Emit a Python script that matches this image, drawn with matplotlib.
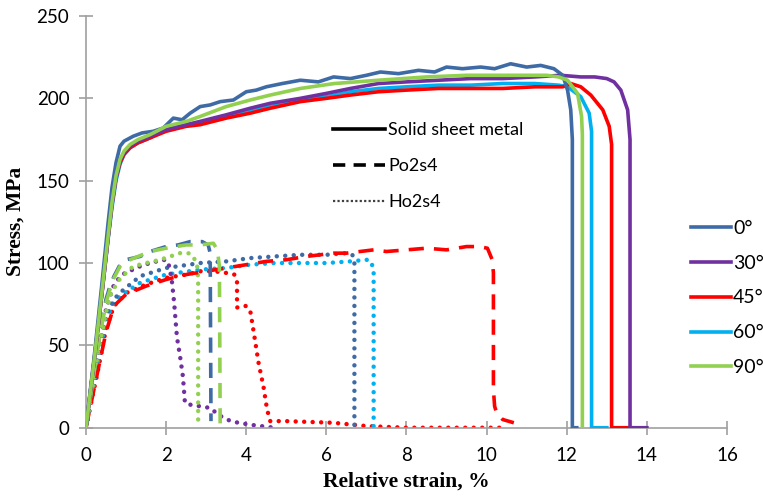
import matplotlib
matplotlib.use("Agg")
import matplotlib.pyplot as plt
from matplotlib.lines import Line2D

# ---------------- data ----------------
angles = ["0°", "30°", "45°", "60°", "90°"]
colors = {"0°": "#3E6BA6", "30°": "#7030A0", "45°": "#FF0000", "60°": "#00B0F0", "90°": "#92D050"}

# Solid sheet metal
solid_x_0 = [0, 0.2, 0.4, 0.55, 0.65, 0.75, 0.85, 0.95, 1.18, 1.4, 1.68, 1.93, 2.18, 2.4, 2.6, 2.85, 3.1, 3.35, 3.68, 4.0, 4.25, 4.5, 4.9, 5.35, 5.8, 6.18, 6.6, 7.0, 7.35, 7.8, 8.3, 8.7, 9.0, 9.4, 9.85, 10.2, 10.6, 11.0, 11.35, 11.68, 11.9, 12.02, 12.1, 12.14, 12.14, 12.25]
solid_y_0 = [0, 42, 88, 124, 146, 161, 171, 174, 177, 179, 180, 182, 188, 187, 191, 195, 196, 198, 199, 204, 205, 207, 209, 211, 210, 213, 212, 214, 216, 215, 217, 216, 219, 218, 219, 218, 221, 219, 220, 218, 214, 205, 193, 175, 0, 0]
solid_x_30 = [0, 0.2, 0.4, 0.55, 0.65, 0.75, 0.85, 0.95, 1.1, 1.3, 1.6, 2.0, 2.5, 2.85, 3.5, 4.1, 4.6, 5.35, 6.0, 6.6, 7.3, 8.0, 8.8, 9.6, 10.4, 11.2, 11.85, 12.35, 12.7, 13.0, 13.18, 13.35, 13.52, 13.58, 13.58, 14.0]
solid_y_30 = [0, 40, 82, 115, 136, 152, 162, 167, 171, 174, 177, 181, 184, 186, 190, 194, 197, 200, 203, 206, 209, 210, 211, 212, 212, 213, 214, 213, 213, 212, 210, 205, 193, 175, 0, 0]
solid_x_45 = [0, 0.2, 0.4, 0.55, 0.65, 0.75, 0.85, 0.95, 1.1, 1.3, 1.6, 2.0, 2.5, 2.85, 3.5, 4.1, 4.6, 5.35, 6.0, 6.6, 7.3, 8.0, 8.8, 9.6, 10.4, 11.2, 11.9, 12.1, 12.35, 12.6, 12.9, 13.06, 13.12, 13.12, 13.6]
solid_y_45 = [0, 40, 82, 115, 136, 152, 161, 166, 170, 173, 176, 180, 183, 184, 188, 191, 194, 198, 200, 202, 204, 205, 206, 206, 206, 207, 207, 209, 207, 202, 193, 183, 172, 0, 0]
solid_x_60 = [0, 0.2, 0.4, 0.55, 0.65, 0.75, 0.85, 0.95, 1.1, 1.3, 1.6, 2.0, 2.5, 2.85, 3.5, 4.1, 4.6, 5.35, 6.0, 6.6, 7.3, 8.0, 8.8, 9.6, 10.4, 11.2, 11.8, 12.02, 12.35, 12.56, 12.62, 12.62, 13.0]
solid_y_60 = [0, 40, 82, 114, 134, 150, 160, 166, 170, 173, 176, 181, 184, 185, 189, 193, 195, 199, 201, 204, 206, 207, 208, 208, 209, 209, 208, 207, 201, 191, 180, 0, 0]
solid_x_90 = [0, 0.2, 0.4, 0.55, 0.65, 0.75, 0.85, 0.95, 1.1, 1.3, 1.6, 2.0, 2.5, 2.85, 3.5, 4.1, 4.6, 5.35, 6.2, 7.3, 8.5, 9.5, 10.5, 11.5, 11.8, 12.02, 12.27, 12.37, 12.39, 12.39]
solid_y_90 = [0, 40, 83, 116, 137, 153, 163, 168, 172, 175, 178, 183, 186, 189, 195, 199, 202, 206, 209, 211, 213, 214, 214, 214, 213, 211, 203, 189, 178, 0]

# Po2s4 (dashed)
po_x_0 = [0, 0.3, 0.5, 0.6, 0.7, 0.85, 1.0, 1.35, 1.6, 2.0, 2.3, 2.6, 2.9, 3.05, 3.1, 3.12]
po_y_0 = [0, 50, 78, 86, 92, 99, 102, 104, 107, 110, 111, 113, 113, 111, 106, 4]
po_x_45 = [0, 0.3, 0.5, 0.7, 1.0, 1.5, 2.0, 2.5, 3.0, 3.5, 4.0, 4.5, 5.0, 5.5, 6.18, 6.5, 7.18, 7.5, 8.0, 8.5, 9.0, 9.5, 9.8, 10.02, 10.14, 10.17, 10.17, 10.2, 10.25, 10.4, 10.68]
po_y_45 = [0, 35, 58, 74, 81, 86, 90, 93, 95, 97, 99, 101, 102, 104, 106, 106, 108, 107, 108, 109, 108, 110, 110, 109, 102, 94, 23, 13, 9, 5, 3]
po_x_90 = [0, 0.3, 0.5, 0.6, 0.7, 0.85, 1.0, 1.3, 1.6, 2.0, 2.5, 2.85, 3.18, 3.28, 3.33, 3.35]
po_y_90 = [0, 50, 76, 84, 91, 98, 101, 104, 107, 109, 111, 111, 112, 108, 98, 0]

# Ho2s4 (dotted)
ho_x_0 = [0, 0.3, 0.5, 0.7, 0.85, 1.35, 2.0, 2.85, 3.5, 4.1, 4.7, 5.35, 6.0, 6.5, 6.65, 6.7, 6.7]
ho_y_0 = [0, 45, 68, 78, 82, 92, 97, 100, 101, 103, 104, 105, 105, 106, 105, 100, 0]
ho_x_30 = [0, 0.3, 0.5, 0.7, 0.9, 1.35, 1.6, 1.93, 2.05, 2.14, 2.2, 2.27, 2.35, 2.42, 2.47, 2.6, 2.85, 3.1, 3.3, 3.5, 3.8, 4.2, 4.7]
ho_y_30 = [0, 45, 72, 87, 93, 98, 100, 102, 101, 90, 76, 55, 43, 31, 15, 14, 13, 12, 8, 5, 3, 1.5, 0]
ho_x_45 = [0, 0.3, 0.5, 0.7, 1.02, 1.5, 2.0, 2.5, 2.85, 3.2, 3.5, 3.7, 3.77, 3.77, 3.98, 4.1, 4.18, 4.31, 4.43, 4.52, 4.6, 5.0, 6.18, 7.0, 7.5, 8.0, 10.5]
ho_y_45 = [0, 35, 60, 74, 82, 87, 91, 93, 95, 95, 94, 93, 90, 73, 74, 71, 59, 39, 25, 11, 4, 4, 3, 1, 0.5, 0, 0]
ho_x_60 = [0, 0.3, 0.5, 0.7, 0.85, 1.35, 2.0, 2.85, 3.5, 4.1, 4.7, 5.35, 6.0, 6.6, 7.0, 7.12, 7.18, 7.18]
ho_y_60 = [0, 40, 66, 76, 80, 88, 93, 96, 97, 99, 100, 100, 100, 101, 102, 101, 95, 0]
ho_x_90 = [0, 0.3, 0.5, 0.6, 0.8, 1.0, 1.18, 1.5, 1.85, 2.1, 2.35, 2.55, 2.64, 2.77, 2.8, 2.8]
ho_y_90 = [0, 45, 70, 80, 89, 94, 98, 100, 102, 104, 106, 106, 105, 100, 90, 0]

x_ticks = [0, 2, 4, 6, 8, 10, 12, 14, 16]
y_ticks = [0, 50, 100, 150, 200, 250]

# ---------------- plot ----------------
fig = plt.figure(figsize=(7.63, 4.97), dpi=100)
ax = fig.add_axes([0.1127, 0.1394, 0.9528 - 0.1127, 0.9678 - 0.1394])

LW = 2.6
dash = (0, (4.2, 2.8))
DOT_LW = 3.2
dot = (0, (0.01, 1.9))

solid = [("60°", solid_x_60, solid_y_60), ("45°", solid_x_45, solid_y_45),
         ("30°", solid_x_30, solid_y_30), ("0°", solid_x_0, solid_y_0),
         ("90°", solid_x_90, solid_y_90)]
po = [("45°", po_x_45, po_y_45), ("0°", po_x_0, po_y_0), ("90°", po_x_90, po_y_90)]
ho = [("45°", ho_x_45, ho_y_45), ("60°", ho_x_60, ho_y_60), ("0°", ho_x_0, ho_y_0),
      ("30°", ho_x_30, ho_y_30), ("90°", ho_x_90, ho_y_90)]

for a, xs, ys in ho:
    ax.plot(xs, ys, color=colors[a], lw=DOT_LW, linestyle=dot,
            dash_capstyle="round", zorder=2)
for a, xs, ys in po:
    ax.plot(xs, ys, color=colors[a], lw=LW, linestyle=dash, zorder=3)
for a, xs, ys in solid:
    ax.plot(xs, ys, color=colors[a], lw=LW, solid_joinstyle="round", zorder=4)

ax.set_xlim(0, 16)
ax.set_ylim(0, 250)
ax.set_xticks(x_ticks)
ax.set_yticks(y_ticks)
for s in ["top", "right"]:
    ax.spines[s].set_visible(False)
for s in ["left", "bottom"]:
    ax.spines[s].set_color("#A0A0A0")
    ax.spines[s].set_linewidth(1.2)
ax.tick_params(direction="inout", length=10, width=1.2, color="#A0A0A0",
               labelsize=13.5)
ax.tick_params(axis="x", pad=9)
ax.tick_params(axis="y", pad=7)
for lab in ax.get_xticklabels() + ax.get_yticklabels():
    lab.set_fontfamily("Lato")

ax.set_xlabel("Relative strain, %", fontfamily="Liberation Serif", fontweight="bold",
              fontsize=15.5, labelpad=5)
ax.set_ylabel("Stress, MPa", fontfamily="Liberation Serif", fontweight="bold",
              fontsize=15.5, labelpad=8)

# colour legend
ch = [Line2D([], [], color=colors[a], lw=LW) for a in angles]
leg1 = fig.legend(ch, angles, loc="upper left", bbox_to_anchor=(0.9056, 0.558),
                  frameon=False, handlelength=2.06, handletextpad=0.1,
                  labelspacing=0.92, prop={"family": "Lato", "size": 14},
                  borderaxespad=0, borderpad=0)

# line-style legend
sh = [Line2D([], [], color="black", lw=LW),
      Line2D([], [], color="black", lw=LW, linestyle=(0, (3.4, 2.3))),
      Line2D([], [], color="#404040", lw=1.6, linestyle=(0, (1.0, 1.0)))]
leg2 = ax.legend(sh, ["Solid sheet metal", "Po2s4", "Ho2s4"], loc="upper left",
                 bbox_to_anchor=(0.385, 0.742), frameon=False, handlelength=2.9,
                 handletextpad=0.17, labelspacing=1.1,
                 prop={"family": "Lato", "size": 13}, borderaxespad=0, borderpad=0)

fig.savefig("out.png", dpi=100)
